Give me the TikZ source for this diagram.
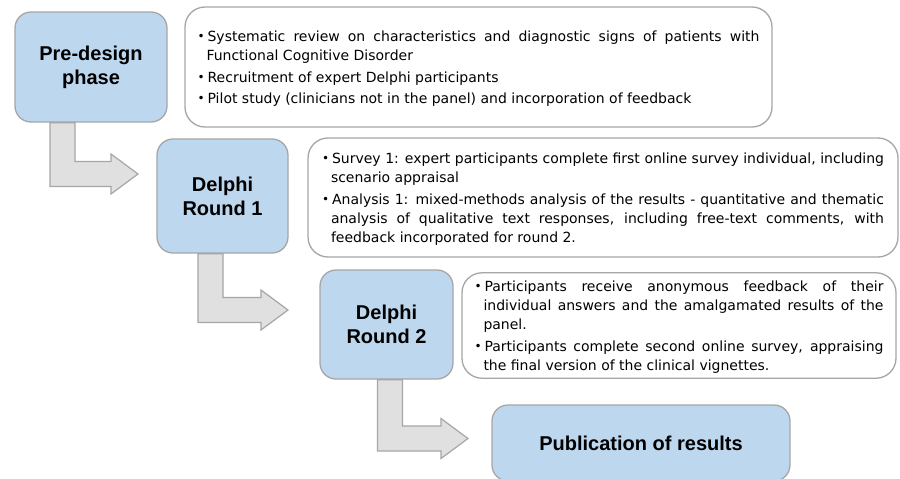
\documentclass[tikz,border=0pt]{standalone}
\usepackage{fontspec}
\setmainfont{DejaVu Sans}
\newfontfamily\headfont{Liberation Sans}
\usetikzlibrary{calc}

\definecolor{phaseblue}{HTML}{BDD7EE}
\definecolor{boxline}{HTML}{A6A6A6}
\definecolor{arrowgray}{HTML}{E0E0E0}

% bullet list with hanging indent
\newenvironment{bullets}{\begin{list}{\raisebox{1pt}{\fontsize{12}{12}\selectfont\textbullet}}%
  {\setlength{\leftmargin}{9pt}\setlength{\labelwidth}{6pt}\setlength{\labelsep}{3pt}%
   \setlength{\itemsep}{2.5pt}\setlength{\topsep}{0pt}\setlength{\partopsep}{0pt}%
   \setlength{\parsep}{0pt}\setlength{\itemindent}{0pt}}}%
  {\end{list}\par\nointerlineskip\vbox to 5pt{}}

% bent block arrow: #1 top of the stem, #2 tip
\newcommand{\bentarrow}[2]{%
  \draw[flowarrow] let \p1=#1, \p2=#2 in
    (\x1-12.5pt,\y1) -- (\x1+12.5pt,\y1) -- (\x1+12.5pt,\y2+12.5pt) -- (\x2-27pt,\y2+12.5pt)
    -- (\x2-27pt,\y2+20pt) -- (\x2,\y2) -- (\x2-27pt,\y2-20pt) -- (\x2-27pt,\y2-12.5pt)
    -- (\x1-12.5pt,\y2-12.5pt) -- cycle;}

\begin{document}
\begin{tikzpicture}[x=1pt,y=-1pt,
    phase/.style={draw=boxline,line width=1.3pt,fill=phaseblue,rounded corners=16pt,
      align=center,font=\headfont\bfseries\fontsize{20}{24}\selectfont},
    notebox/.style={draw=boxline,line width=1.3pt,fill=white,rounded corners=20pt,
      align=justify,inner ysep=0pt,font=\fontsize{14}{19}\selectfont},
    flowarrow/.style={draw=boxline,line width=1.2pt,fill=arrowgray}]
  \useasboundingbox (0,0) rectangle (900,479);
  \clip (0,0) rectangle (900,479);

  % stages
  \node[phase,minimum width=152,minimum height=110] (pre) at (91,67) {Pre-design\\phase};
  \node[phase,minimum width=131,minimum height=114] (d1) at (222.5,196) {Delphi\\Round 1};
  \node[phase,minimum width=133,minimum height=109] (d2) at (386.5,324.5) {Delphi\\Round 2};
  \node[phase,minimum width=298,minimum height=76] (pub) at (641,443) {Publication of results};

  % notes
  \node[notebox,text width=562,inner xsep=12.5,minimum height=120] (n1) at (478.5,67) {%
    \begin{bullets}
    \item Systematic review on characteristics and diagnostic signs of patients with\linebreak Functional Cognitive Disorder
    \item Recruitment of expert Delphi participants
    \item Pilot study (clinicians not in the panel) and incorporation of feedback
    \end{bullets}};
  \node[notebox,text width=562,inner xsep=14,minimum height=119] (n2) at (603,197.5) {%
    \begin{bullets}
    \item Survey 1: expert participants complete first online survey individual, including\linebreak scenario appraisal
    \item Analysis 1: mixed-methods analysis of the results - quantitative and thematic\linebreak analysis of qualitative text responses, including free-text comments, with\linebreak feedback incorporated for round 2.
    \end{bullets}};
  \node[notebox,text width=409,inner xsep=12.5,minimum height=103] (n3) at (679,325.5) {%
    \begin{bullets}
    \item Participants receive anonymous feedback of their\linebreak individual answers and the amalgamated results of the\linebreak panel.
    \item Participants complete second online survey, appraising\linebreak the final version of the clinical vignettes.
    \end{bullets}};

  % arrows
  \coordinate (tip1) at (138,174);
  \coordinate (tip2) at (288,310);
  \coordinate (tip3) at (468,438.5);
  \bentarrow{($(pre.south)+(-28.5,0)$)}{(tip1)}
  \bentarrow{($(d1.south)+(-12,0)$)}{(tip2)}
  \bentarrow{($(d2.south)+(3.5,0)$)}{(tip3)}
\end{tikzpicture}
\end{document}
